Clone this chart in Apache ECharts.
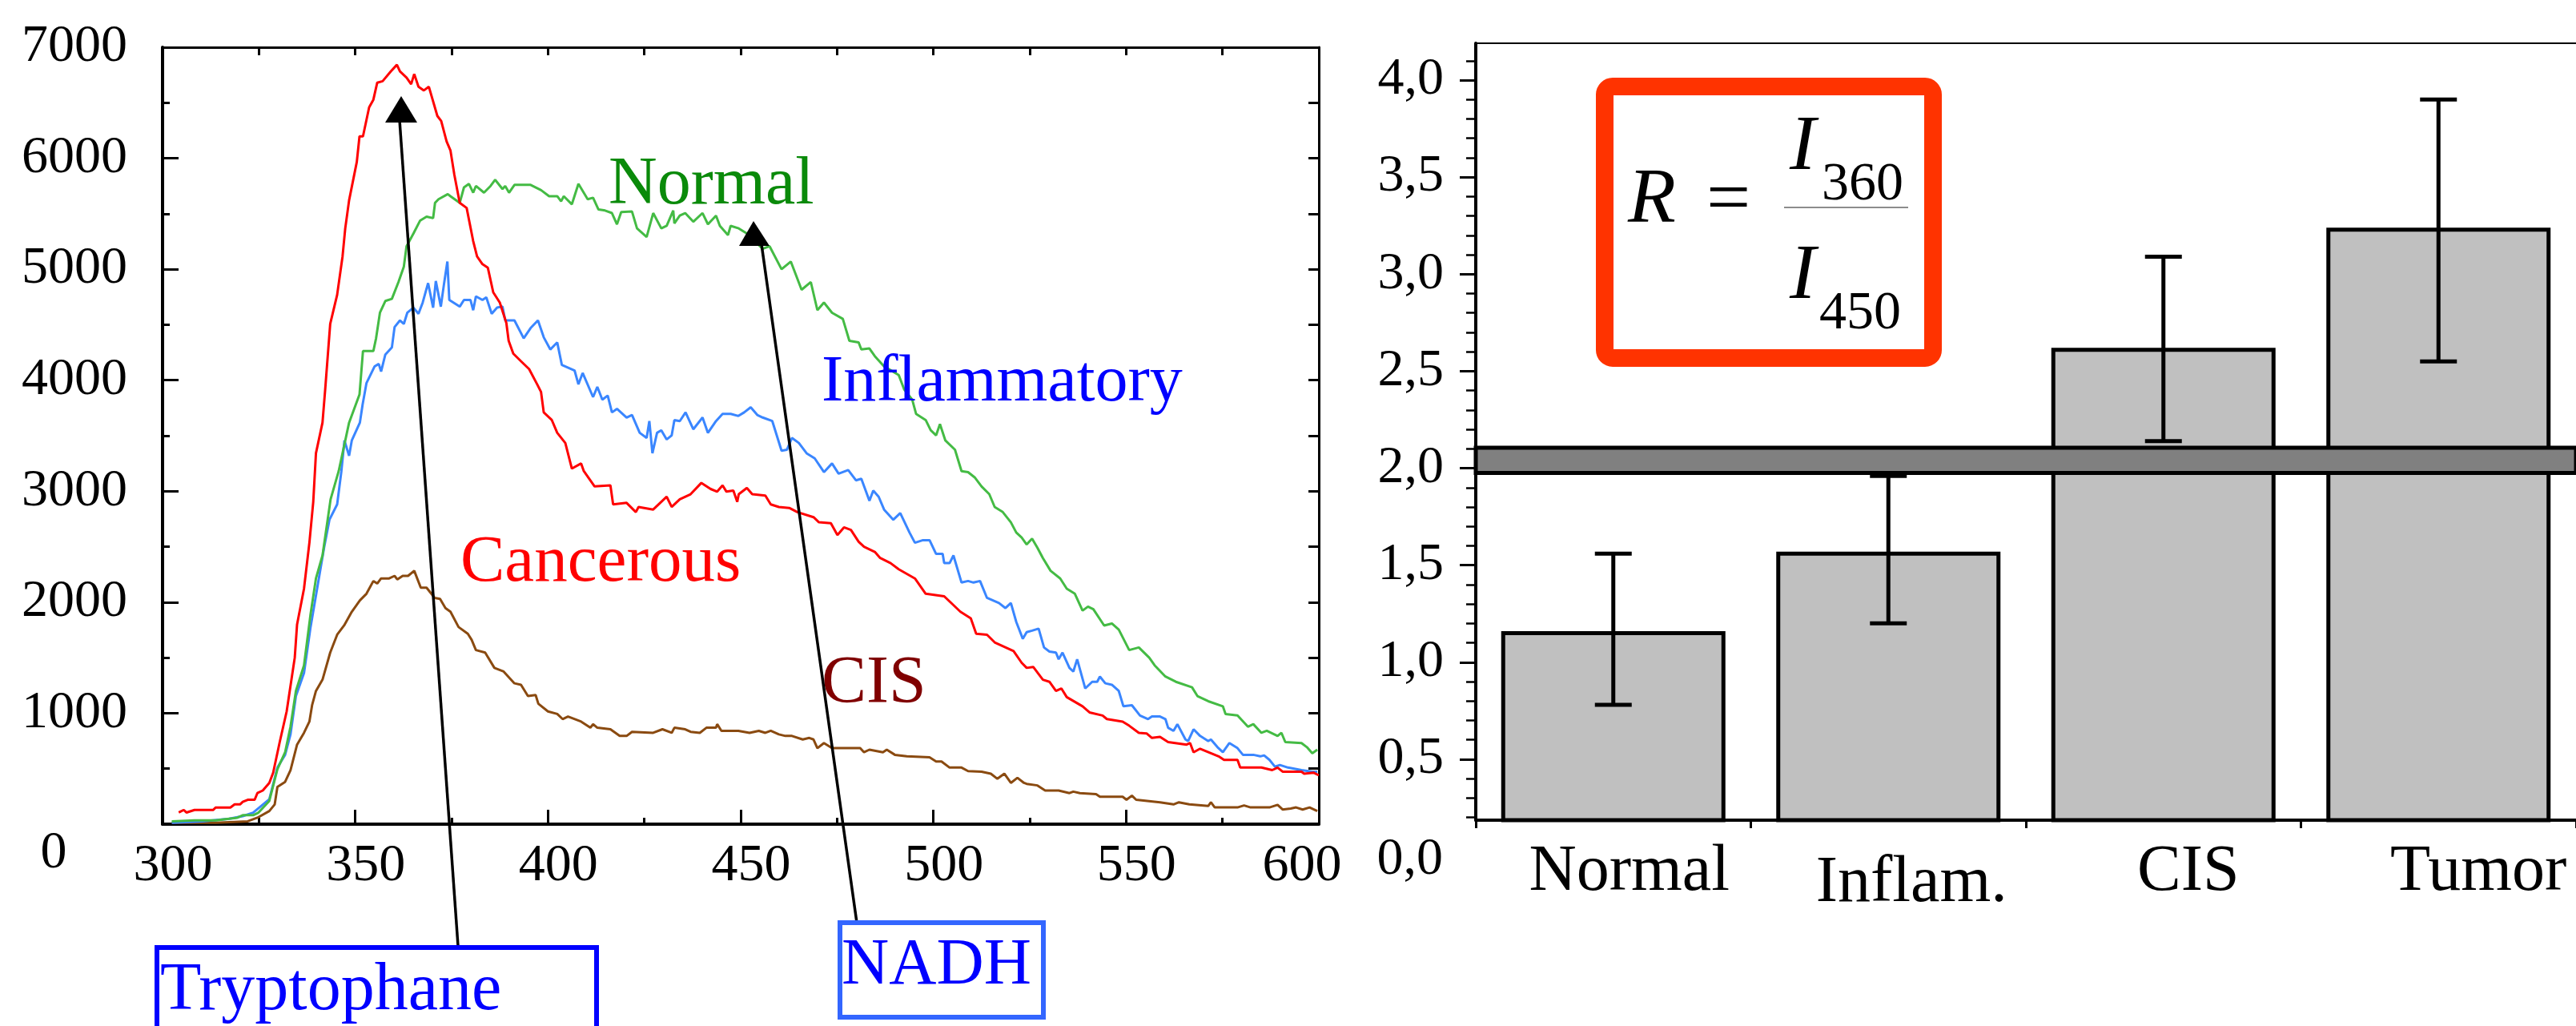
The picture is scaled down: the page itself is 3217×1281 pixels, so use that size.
<!DOCTYPE html>
<html><head><meta charset="utf-8">
<script src="https://cdn.jsdelivr.net/npm/echarts@6/dist/echarts.min.js"></script>
<style>html,body{margin:0;padding:0;background:#fff}#c{width:3217px;height:1281px}</style>
</head><body><div id="c"></div>
<script>
const FONT = '"Liberation Serif", "Times New Roman", serif';

// ---- Left panel: fluorescence spectra [wavelength nm, intensity] ----
const cancerous = [[304.2,105],[305.5,128],[306.2,105],[308.3,128],[313.1,128],[313.8,150],[317.6,150],[318.7,178],[320.1,178],[320.8,201],[322.1,220],[323.9,220],[324.6,280],[326,303],[327.7,372],[328.7,464],[330.4,740],[332.2,1016],[333.2,1247],[334.3,1500],[334.9,1799],[336.7,2122],[338.1,2536],[339.1,2904],[339.8,3342],[341.5,3618],[342.2,3918],[343.5,4507],[345.3,4769],[346.7,5115],[347.4,5368],[348.4,5621],[350.4,5967],[351.1,6197],[352,6197],[353.6,6459],[354.7,6528],[355.7,6681],[357.1,6694],[359.2,6782],[360.8,6842],[361.6,6782],[363.3,6727],[364.5,6667],[365.3,6759],[366.4,6644],[367.8,6611],[369.1,6644],[371.3,6381],[372.3,6335],[373.7,6151],[374.7,6070],[375.7,5852],[377.1,5598],[378.9,5552],[380.6,5253],[381.6,5115],[383,5046],[384.4,5013],[385.8,4792],[387.5,4700],[389.2,4516],[389.8,4355],[391,4240],[393,4171],[395.1,4101],[397.2,3963],[398.2,3894],[398.9,3710],[401,3641],[402.4,3526],[404.5,3434],[406.2,3204],[408.6,3250],[409.3,3181],[412.1,3043],[416.2,3052],[416.9,2881],[420.4,2895],[422.8,2812],[423.5,2858],[427.3,2835],[430.8,2950],[432.1,2858],[434.2,2927],[437,2973],[439.8,3075],[442.2,3020],[443.9,2996],[445.3,3052],[446.3,2996],[448.1,3006],[449.1,2904],[449.5,2973],[451.6,3029],[453,2973],[456.4,2960],[457.8,2881],[459.9,2858],[462.6,2849],[464.7,2812],[468.9,2766],[470.3,2720],[473.4,2711],[475.1,2605],[476.8,2674],[478.6,2651],[480.6,2545],[482,2499],[484.8,2453],[486.2,2398],[488.9,2352],[491,2297],[495.2,2214],[498,2076],[502.8,2053],[507,1914],[509.7,1854],[511.1,1716],[513.9,1707],[515.9,1638],[520.8,1560],[522.9,1454],[524.2,1408],[525.9,1417],[528.4,1302],[530.1,1283],[531.8,1200],[533.2,1223],[534.6,1145],[538.7,1062],[540.5,1007],[543.9,979],[545,947],[549.1,924],[550.8,887],[553.3,823],[555.3,818],[556.7,777],[558.8,786],[560.9,740],[565.7,717],[566.6,731],[567.5,648],[569.2,680],[574,611],[575.4,579],[578.9,579],[579.6,510],[585.1,510],[587.9,487],[589.3,510],[590.6,473],[595.5,473],[596.2,455],[598.6,464],[600,440]];

const normal = [[302.4,26],[308.3,35],[313.8,35],[319.4,58],[320.8,81],[323.5,81],[324.9,104],[327.7,210],[329.8,496],[331.8,648],[333.2,878],[334.6,1200],[336.7,1431],[338.4,1891],[339.8,2214],[341.5,2421],[343.6,2927],[345.7,3181],[348.4,3618],[351.1,3871],[352,4263],[354.7,4263],[355.4,4378],[356.4,4608],[357.8,4714],[359.5,4733],[361.2,4884],[362.6,5023],[363.3,5207],[365.1,5322],[366.8,5437],[368.5,5474],[370.2,5460],[370.7,5598],[371.6,5631],[374,5677],[374.7,5658],[377.1,5598],[378.2,5737],[379.5,5769],[380.6,5690],[381.3,5750],[383.4,5690],[385.1,5750],[386.3,5806],[388.2,5723],[388.9,5750],[389.9,5690],[391.3,5760],[395.5,5760],[398.2,5713],[400.3,5658],[402.4,5658],[403.4,5612],[404.1,5658],[406.2,5585],[407.9,5769],[410.3,5631],[411.7,5644],[413.1,5538],[414.8,5529],[416.6,5506],[417.9,5405],[419,5515],[421.8,5520],[423.1,5368],[425.6,5290],[427.3,5506],[429.4,5368],[430.8,5391],[432.5,5529],[432.8,5414],[434.2,5483],[435.6,5506],[437.7,5428],[440.1,5506],[441.5,5405],[443.6,5483],[444.6,5391],[446.7,5308],[447.4,5391],[449.5,5368],[451.6,5322],[453.7,5253],[455.7,5184],[457.5,5207],[460.6,5000],[463,5069],[465.8,4815],[468.2,4884],[469.9,4631],[471.6,4700],[473.7,4608],[476.5,4553],[478.2,4355],[480.6,4341],[481.3,4277],[483.4,4286],[484.8,4217],[487.2,4125],[491,4047],[492.4,3918],[494.5,3825],[495.5,3697],[498,3641],[499.3,3549],[500.7,3503],[501.7,3604],[503.1,3457],[505.6,3374],[507.3,3181],[509,3172],[510.7,3125],[512.5,3043],[514.5,2973],[515.9,2858],[518,2812],[520.1,2720],[521.5,2628],[522.9,2582],[524.2,2520],[525.6,2573],[527,2490],[528.4,2398],[530.4,2283],[532.9,2214],[534.6,2122],[536.7,2076],[538.7,1924],[540.1,1960],[541.5,1937],[544.3,1790],[546.3,1808],[548.1,1753],[550.8,1569],[553.3,1592],[556,1500],[557.4,1431],[560.2,1330],[562.9,1283],[567.1,1233],[568.5,1154],[571.3,1108],[575.1,1062],[575.8,993],[578.9,979],[581.6,878],[583,901],[585.1,823],[586.5,841],[589.3,795],[590.3,823],[591.3,740],[595.5,731],[596.9,694],[598.3,639],[599.6,671]];

const inflammatory = [[302.4,12],[310.4,26],[317.3,49],[320.8,72],[323.5,104],[327.7,224],[329.8,510],[331.8,625],[333.2,809],[334.6,1154],[336.7,1362],[338.4,1776],[340.1,2122],[341.9,2490],[343.3,2743],[345.3,2881],[346.4,3181],[347.2,3457],[348.4,3319],[349.1,3457],[351.2,3618],[351.9,3779],[352.9,3973],[355,4124],[356.1,4147],[356.7,4078],[357.8,4231],[359.5,4295],[360.2,4479],[361.6,4539],[362.6,4507],[363.5,4608],[365.1,4654],[366.4,4599],[367.5,4700],[368.9,4875],[370.2,4654],[370.9,4894],[372.2,4663],[373,4861],[373.9,5069],[374.4,4723],[377.1,4663],[378.2,4723],[379.9,4723],[380.6,4631],[381.3,4756],[383,4723],[384,4746],[385.4,4599],[386.8,4654],[388.2,4663],[388.9,4539],[391.3,4539],[393.7,4378],[395.5,4470],[397.4,4539],[398.9,4387],[400.6,4277],[402.4,4341],[403.6,4138],[406.9,4088],[407.9,3963],[409,4065],[411.7,3848],[412.8,3940],[414.1,3825],[415.5,3862],[416.6,3710],[417.9,3742],[420.4,3664],[421.8,3687],[423.8,3526],[425.6,3480],[426.3,3632],[427.1,3342],[428.3,3526],[429.4,3549],[430.8,3466],[432.1,3503],[432.8,3641],[434.2,3632],[435.7,3710],[437.7,3558],[440.1,3664],[441.5,3526],[443.6,3632],[445.3,3697],[447.4,3697],[449.4,3678],[450.9,3710],[452.6,3756],[454.3,3687],[455.7,3664],[458.2,3632],[460.6,3365],[462,3374],[463.3,3480],[465.1,3434],[467.1,3342],[469.2,3296],[471.6,3172],[473.7,3250],[475.4,3158],[477.9,3190],[479.9,3098],[481.3,3112],[483.4,2913],[484.4,3006],[485.8,2950],[487.2,2835],[489.6,2743],[491.4,2803],[493.8,2628],[495.2,2536],[497.3,2559],[499,2559],[500.7,2435],[502.4,2435],[502.8,2352],[504.2,2352],[505.2,2421],[507.3,2177],[509,2191],[510.4,2177],[512.1,2191],[513.9,2039],[517,1993],[518.7,1947],[520.1,1993],[521.5,1822],[523.2,1670],[524.2,1730],[525.6,1744],[527.3,1762],[528.7,1592],[530.1,1555],[531.8,1546],[532.5,1486],[533.5,1546],[535.3,1408],[536.3,1375],[537.3,1486],[539.4,1223],[541.2,1283],[542.5,1283],[543.2,1330],[544.6,1269],[546.3,1256],[548.1,1200],[549.3,1062],[551.5,1072],[553.6,979],[555.7,947],[556.7,970],[558.8,970],[560.2,947],[560.9,869],[562.3,841],[563.3,901],[565.4,763],[566.1,749],[567.5,855],[569.2,795],[571.3,749],[572,763],[573.7,694],[575.1,648],[576.8,731],[578.9,685],[580.3,625],[583,625],[584.8,611],[585.8,620],[587.2,579],[588.6,519],[589.9,533],[592,510],[595.5,487],[598.3,473],[599.6,473]];

const cis = [[302.4,12],[313.8,12],[322.1,26],[324.6,58],[327.7,118],[329.1,178],[329.8,335],[331.8,381],[333.2,487],[334.9,717],[336.7,823],[338.1,924],[338.8,1072],[339.8,1200],[341.5,1302],[343.5,1546],[345.3,1707],[347.1,1790],[349.1,1914],[351.2,2016],[352.9,2076],[354.7,2191],[355.7,2168],[356.7,2214],[358.8,2214],[360.2,2237],[360.9,2205],[362.3,2237],[363.7,2237],[365.3,2283],[367,2131],[368.5,2131],[370.6,2039],[372,2030],[373.4,1947],[374.7,1914],[376.8,1776],[379.2,1716],[380.2,1661],[381.3,1569],[383.7,1546],[386.1,1408],[388.5,1375],[391.3,1269],[393,1256],[394.8,1154],[396.8,1164],[397.5,1085],[400,1016],[402.4,993],[403.8,947],[405.2,970],[408.6,924],[411,869],[411.7,901],[412.8,869],[416.2,855],[418.6,795],[420.4,795],[421.8,832],[427.3,823],[429.7,855],[432.1,823],[432.8,869],[435.6,855],[437,832],[439.4,823],[441.1,869],[443.6,869],[443.9,901],[445,841],[449.4,841],[452.3,823],[454.7,841],[456.4,823],[457.8,841],[459.9,809],[461.6,795],[463.3,795],[466.1,763],[467.8,777],[468.9,763],[469.9,685],[471.6,731],[473.7,685],[481,685],[482,648],[483.4,671],[486.9,648],[487.9,671],[490,625],[493.1,611],[499,602],[500.7,565],[502.1,565],[504.2,510],[507.3,510],[509,478],[512.5,473],[514.9,455],[516.6,409],[518.4,455],[520.1,372],[521.8,418],[523.5,372],[524.2,363],[527,349],[529,303],[532.5,303],[535.3,280],[536.3,293],[538,280],[542.2,270],[543.2,247],[549.1,247],[550.1,220],[551.5,257],[552.6,220],[558.8,197],[562.3,178],[563.7,197],[566.4,178],[571.3,164],[572,197],[573,151],[578.9,151],[580.6,169],[582.3,151],[587.2,151],[589.3,174],[590.6,132],[592.7,141],[594.1,151],[595.8,132],[597.6,151],[599.6,118]];

// ---- Right panel: ratio R = I360 / I450 ----
const ratioCategories = ['Normal', 'Inflam.', 'CIS', 'Tumor'];
const ratioMean = [1.16, 1.57, 2.62, 3.24];
const ratioLow  = [0.78, 1.20, 2.14, 2.55];
const ratioHigh = [1.56, 1.96, 3.09, 3.90];
const thresholdBand = [1.975, 2.105];
const ratioMajorTicks = [0.5, 1.0, 1.5, 2.0, 2.5, 3.0, 3.5, 4.0];
const ratioMinorTicks = [0.2,0.3,0.4,0.6,0.7,0.8,0.9,1.1,1.2,1.3,1.4,1.6,1.7,1.8,1.9,2.1,2.2,2.3,2.4,2.6,2.7,2.8,2.9,3.1,3.2,3.3,3.4,3.6,3.7,3.8,3.9,4.1];

const labelShift = {'Normal':'n','Inflam.':'i','CIS':'c','Tumor':'t'};

const chart = echarts.init(document.getElementById('c'), null, {renderer:'canvas'});

const blackLine = (w) => ({lineStyle:{color:'#000', width:w}});

const option = {
  animation: false,
  backgroundColor: '#ffffff',
  textStyle: {fontFamily: FONT},
  grid: [
    {left: 203, top: 59, right: 1570, bottom: 252},
    {left: 1843, top: 54, right: -6, bottom: 257}
  ],
  xAxis: [
    {type:'value', gridIndex:0, position:'bottom', min:300, max:600, interval:50,
     axisLine:{show:true, onZero:false, ...blackLine(4)},
     axisTick:{show:true, inside:true, length:18, ...blackLine(3)},
     minorTick:{show:true, splitNumber:2, length:8, ...blackLine(3)},
     splitLine:{show:false}, minorSplitLine:{show:false},
     axisLabel:{margin:20, fontSize:66, fontFamily:FONT, color:'#000',
       formatter:(v)=> v===600 ? '{b|600}' : '{a|'+v+'}',
       rich:{a:{fontSize:66, fontFamily:FONT, color:'#000', padding:[0,0,0,26]},
             b:{fontSize:66, fontFamily:FONT, color:'#000', padding:[0,42,0,0]}}}},
    {type:'value', gridIndex:0, position:'top', min:300, max:600, interval:25,
     axisLine:{show:true, onZero:false, ...blackLine(3)},
     axisTick:{show:true, inside:true, length:10, ...blackLine(3)},
     axisLabel:{show:false}, splitLine:{show:false}},
    {type:'category', gridIndex:1, position:'bottom', data:ratioCategories,
     axisLine:{show:true, onZero:false, ...blackLine(4)},
     axisTick:{show:true, inside:false, length:10, alignWithLabel:false, ...blackLine(3)},
     axisLabel:{interval:0, hideOverlap:false, margin:24, fontSize:82, fontFamily:FONT, color:'#000',
       formatter:(v)=> '{'+labelShift[v]+'|'+v+'}',
       rich:{n:{fontSize:82, fontFamily:FONT, color:'#000', padding:[0,0,0,40]},
             i:{fontSize:82, fontFamily:FONT, color:'#000', padding:[14,0,0,58]},
             c:{fontSize:82, fontFamily:FONT, color:'#000', padding:[0,0,0,62]},
             t:{fontSize:82, fontFamily:FONT, color:'#000', padding:[0,0,0,100]}}},
     splitLine:{show:false}},
    {type:'category', gridIndex:1, position:'top', data:ratioCategories,
     axisLine:{show:true, onZero:false, ...blackLine(2)},
     axisTick:{show:false}, axisLabel:{show:false}, splitLine:{show:false}}
  ],
  yAxis: [
    {type:'value', gridIndex:0, position:'left', min:0, max:7000, interval:1000,
     axisLine:{show:true, onZero:false, ...blackLine(4)},
     axisTick:{show:true, inside:true, length:20, ...blackLine(3)},
     minorTick:{show:true, splitNumber:2, length:9, ...blackLine(3)},
     splitLine:{show:false}, minorSplitLine:{show:false},
     axisLabel:{margin:44, fontSize:66, fontFamily:FONT, color:'#000',
       formatter:(v)=> v===0 ? '' : String(v)}},
    {type:'value', gridIndex:0, position:'right', min:0, max:7000, interval:500,
     axisLine:{show:true, onZero:false, ...blackLine(3)},
     axisTick:{show:true, inside:true, length:13, ...blackLine(3)},
     axisLabel:{show:false}, splitLine:{show:false}},
    {type:'value', gridIndex:1, position:'left', min:0.186, max:4.19,
     axisLine:{show:true, onZero:false, ...blackLine(4)},
     axisTick:{show:true, inside:false, length:20, customValues:ratioMajorTicks, ...blackLine(3)},
     axisLabel:{margin:40, fontSize:66, fontFamily:FONT, color:'#000', customValues:ratioMajorTicks,
       formatter:(v)=> v.toFixed(1).replace('.', ',')},
     splitLine:{show:false}},
    {type:'value', gridIndex:1, position:'left', min:0.186, max:4.19,
     axisLine:{show:false},
     axisTick:{show:true, inside:false, length:12, customValues:ratioMinorTicks, ...blackLine(2.5)},
     axisLabel:{show:false}, splitLine:{show:false}}
  ],
  series: [
    {name:'CIS', type:'line', xAxisIndex:0, yAxisIndex:0, data:cis, showSymbol:false, z:2,
     lineStyle:{color:'#8a4a10', width:3}, itemStyle:{color:'#8a4a10'}},
    {name:'Inflammatory', type:'line', xAxisIndex:0, yAxisIndex:0, data:inflammatory, showSymbol:false, z:2,
     lineStyle:{color:'#3a86ff', width:3}, itemStyle:{color:'#3a86ff'}},
    {name:'Normal', type:'line', xAxisIndex:0, yAxisIndex:0, data:normal, showSymbol:false, z:2,
     lineStyle:{color:'#44bb44', width:3}, itemStyle:{color:'#44bb44'}},
    {name:'Cancerous', type:'line', xAxisIndex:0, yAxisIndex:0, data:cancerous, showSymbol:false, z:2,
     lineStyle:{color:'#ff0000', width:3}, itemStyle:{color:'#ff0000'}},
    {name:'R', type:'bar', xAxisIndex:2, yAxisIndex:2, data:ratioMean, barWidth:280, z:2,
     itemStyle:{color:'#c0c0c0', borderColor:'#000', borderWidth:5}},
    {name:'Error', type:'custom', xAxisIndex:2, yAxisIndex:2, z:4,
     data: ratioCategories.map((c, i) => [i, ratioLow[i], ratioHigh[i]]),
     encode:{x:0, y:[1,2]},
     renderItem: function (params, api) {
       const i = api.value(0);
       const lo = api.coord([i, api.value(1)]);
       const hi = api.coord([i, api.value(2)]);
       const w = 23;
       const st = {stroke:'#000', lineWidth:5, fill:null};
       return {type:'group', children:[
         {type:'line', shape:{x1:hi[0], y1:hi[1], x2:lo[0], y2:lo[1]}, style:st},
         {type:'line', shape:{x1:hi[0]-w, y1:hi[1], x2:hi[0]+w, y2:hi[1]}, style:st},
         {type:'line', shape:{x1:lo[0]-w, y1:lo[1], x2:lo[0]+w, y2:lo[1]}, style:st}
       ]};
     },
     markArea:{silent:true, z:3,
       itemStyle:{color:'#808080', borderColor:'#000', borderWidth:5, opacity:1},
       data:[[{yAxis:thresholdBand[0]}, {yAxis:thresholdBand[1]}]]}}
  ],
  graphic: [
    // curve labels
    {type:'text', x:760, y:232, z:5, style:{text:'Normal', font:'84px '+FONT, fill:'#0a8a0a', align:'left', verticalAlign:'middle'}},
    {type:'text', x:1026, y:478, z:5, style:{text:'Inflammatory', font:'82px '+FONT, fill:'#0000ff', align:'left', verticalAlign:'middle'}},
    {type:'text', x:575, y:703, z:5, style:{text:'Cancerous', font:'83px '+FONT, fill:'#ff0000', align:'left', verticalAlign:'middle'}},
    {type:'text', x:1026, y:855, z:5, style:{text:'CIS', font:'84px '+FONT, fill:'#800000', align:'left', verticalAlign:'middle'}},
    // origin labels
    {type:'text', x:67, y:1066, z:5, style:{text:'0', font:'66px '+FONT, fill:'#000', align:'center', verticalAlign:'middle'}},
    {type:'text', x:1802, y:1074, z:5, style:{text:'0,0', font:'66px '+FONT, fill:'#000', align:'right', verticalAlign:'middle'}},
    // arrows
    {type:'line', z:20, shape:{x1:572, y1:1181, x2:499, y2:150}, style:{stroke:'#000', lineWidth:3.5}},
    {type:'polygon', z:20, shape:{points:[[501,120],[481,153],[521,153]]}, style:{fill:'#000'}},
    {type:'line', z:20, shape:{x1:1070, y1:1152, x2:951, y2:305}, style:{stroke:'#000', lineWidth:3.5}},
    {type:'polygon', z:20, shape:{points:[[941,276],[923,307],[961,307]]}, style:{fill:'#000'}},
    // boxes
    {type:'rect', z:20, shape:{x:196, y:1183, width:549, height:200}, style:{fill:null, stroke:'#0000ff', lineWidth:6}},
    {type:'text', x:200, y:1238, z:20, style:{text:'Tryptophane', font:'84px '+FONT, fill:'#0000ff', align:'left', verticalAlign:'middle'}},
    {type:'rect', z:20, shape:{x:1049, y:1152, width:254, height:118}, style:{fill:null, stroke:'#3366ff', lineWidth:6}},
    {type:'text', x:1051, y:1206, z:20, style:{text:'NADH', font:'82px '+FONT, fill:'#0000ff', align:'left', verticalAlign:'middle'}},
    // formula box
    {type:'rect', z:20, shape:{x:2004, y:108, width:410, height:339, r:10}, style:{fill:'#ffffff', stroke:'#ff3300', lineWidth:22}},
    {type:'text', x:2033, y:251, z:21, style:{text:'R', font:'italic 98px '+FONT, fill:'#000', align:'left', verticalAlign:'middle'}},
    {type:'text', x:2131, y:252, z:21, style:{text:'=', font:'98px '+FONT, fill:'#000', align:'left', verticalAlign:'middle'}},
    {type:'text', x:2235, y:185, z:21, style:{text:'I', font:'italic 98px '+FONT, fill:'#000', align:'left', verticalAlign:'middle'}},
    {type:'text', x:2275, y:231, z:21, style:{text:'360', font:'68px '+FONT, fill:'#000', align:'left', verticalAlign:'middle'}},
    {type:'line', z:21, shape:{x1:2228, y1:259, x2:2383, y2:259}, style:{stroke:'#666', lineWidth:1.5}},
    {type:'text', x:2235, y:346, z:21, style:{text:'I', font:'italic 98px '+FONT, fill:'#000', align:'left', verticalAlign:'middle'}},
    {type:'text', x:2272, y:392, z:21, style:{text:'450', font:'68px '+FONT, fill:'#000', align:'left', verticalAlign:'middle'}}
  ]
};
chart.setOption(option);
</script>
</body></html>
